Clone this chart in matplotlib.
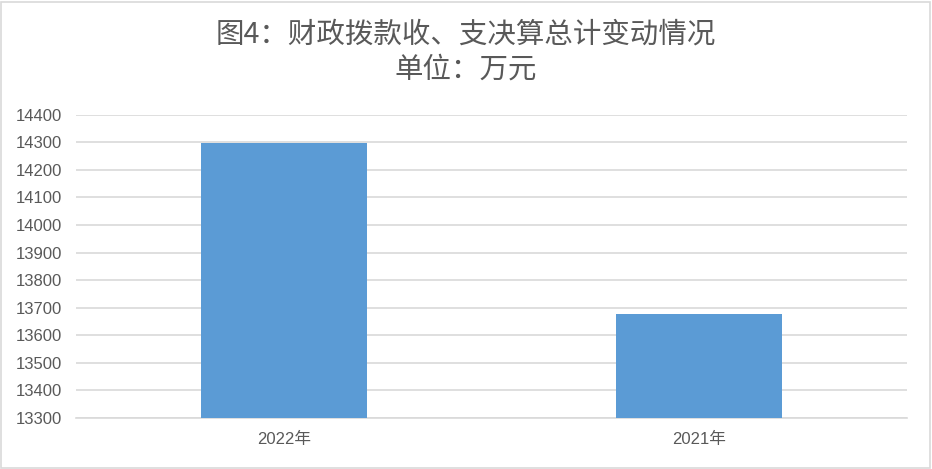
import matplotlib
matplotlib.use("Agg")
import matplotlib.pyplot as plt
from matplotlib.patches import Rectangle

categories = ["2022年", "2021年"]
values = [14296, 13677]
yticks = [13300, 13400, 13500, 13600, 13700, 13800, 13900, 14000, 14100, 14200, 14300, 14400]
title_lines = ["图4：财政拨款收、支决算总计变动情况", "单位：万元"]

plt.rcParams['font.family'] = ['Liberation Sans', 'Noto Sans CJK SC', 'DejaVu Sans']

W, H = 932, 469
fig = plt.figure(figsize=(W / 100, H / 100), dpi=100)
fig.patch.set_facecolor("white")

left, right = 76, 907
top_y, bot_y = 114.7, 418
ax = fig.add_axes([left / W, (H - bot_y) / H, (right - left) / W, (bot_y - top_y) / H])

x = list(range(len(categories)))
ax.bar(x, [v - yticks[0] for v in values], bottom=yticks[0], width=0.4, color="#5b9bd5", zorder=3)
ax.set_xlim(-0.5, len(categories) - 0.5)
ax.set_ylim(yticks[0], yticks[-1])
ax.set_yticks(yticks)
ax.set_yticklabels([str(t) for t in yticks])
ax.set_xticks(x)
ax.set_xticklabels(categories)

ax.grid(axis="y", color="#d9d9d9", linewidth=1.2, zorder=0)
ax.set_axisbelow(True)
for s in ["top", "right", "left"]:
    ax.spines[s].set_visible(False)
ax.spines["bottom"].set_color("#d9d9d9")
ax.spines["bottom"].set_linewidth(1.2)
ax.tick_params(axis="both", length=0, colors="#595959", labelsize=12)
ax.tick_params(axis="y", pad=10)
ax.tick_params(axis="x", pad=10)
for lbl in ax.get_yticklabels():
    lbl.set_horizontalalignment("right")

fig.text(0.5, 1 - 35 / H, title_lines[0], ha="center", va="center", fontsize=20.5,
         color="#595959", family=['Noto Sans CJK SC', 'DejaVu Sans'])
fig.text(0.5, 1 - 70 / H, title_lines[1], ha="center", va="center", fontsize=20.5,
         color="#595959", family=['Noto Sans CJK SC', 'DejaVu Sans'])

fig.patches.append(Rectangle((1 / W, 1 / H), (W - 3) / W, (H - 3) / H, transform=fig.transFigure,
                             fill=False, edgecolor="#d9d9d9", linewidth=1.2))

fig.savefig("out.png", dpi=100)
